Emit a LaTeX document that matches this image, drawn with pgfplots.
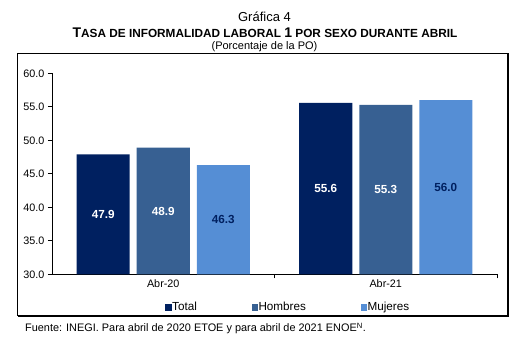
\documentclass[border=0pt]{standalone}
\usepackage{fontspec}
\setmainfont{Liberation Sans}
\usepackage{pgfplots}
\pgfplotsset{compat=1.18}
\definecolor{cTot}{HTML}{002060}
\definecolor{cHom}{HTML}{376092}
\definecolor{cMuj}{HTML}{558ED5}
\begin{document}
\begin{tikzpicture}[x=1pt,y=1pt]
\useasboundingbox (0,0) rectangle (523,342);
% frame with shadow
\draw[line width=0.6pt] (17.5,26.5) rectangle (507.5,289);
\draw[line width=1.6pt] (18,25.8) -- (508.2,25.8) -- (508.2,288.5);
% titles
\node[anchor=base,inner sep=0] at (264.5,320) {\fontsize{13}{15}\selectfont Gráfica 4};
\node[anchor=base,inner sep=0] at (265,304.7) {\bfseries\fontsize{14}{16}\selectfont T\fontsize{11.8}{14}\selectfont ASA DE INFORMALIDAD LABORAL \fontsize{14}{16}\selectfont 1\fontsize{11.8}{14}\selectfont{} POR SEXO DURANTE ABRIL};
\node[anchor=base,inner sep=0] at (264.5,292.5) {\fontsize{11}{13}\selectfont (Porcentaje de la PO)};
\node[anchor=base west,inner sep=0] at (25,10) {\fontsize{10.9}{13}\selectfont Fuente: INEGI. Para abril de 2020 ETOE y para abril de 2021 ENOE\textsuperscript{N}.};
\begin{axis}[
  at={(52pt,67.7pt)}, anchor=south west,
  scale only axis, width=445pt, height=201pt,
  xmin=-0.5, xmax=1.5, ymin=30, ymax=60,
  axis x line=bottom, axis y line=left,
  axis line style={-, black, line width=0.6pt},
  ybar=7pt, bar width=53pt,
  xtick={0.5,1.5}, xticklabels={},
  extra x ticks={0,1}, extra x tick labels={Abr-20,Abr-21},
  extra x tick style={major tick length=0pt, tick label style={yshift=-2pt}},
  ytick={30,35,40,45,50,55,60},
  yticklabel style={/pgf/number format/fixed, /pgf/number format/fixed zerofill, /pgf/number format/precision=1},
  tick align=outside, major tick length=4pt,
  tick style={black, line width=0.6pt},
  tick label style={font=\fontsize{10.8}{12}\selectfont},
  /pgf/number format/assume math mode=true,
  legend columns=3,
  legend style={at={(0.2539,-0.165)}, anchor=west, draw=none, fill=none,
    inner sep=0pt, font=\fontsize{11.7}{13}\selectfont,
    nodes={inner sep=0.6pt},
    /tikz/every odd column/.append style={column sep=0pt},
    /tikz/every even column/.append style={column sep=54pt}},
  legend image code/.code={\fill[#1] (0pt,-3.2pt) rectangle (6.4pt,3.2pt);},
  nodes near coords,
  point meta=y,
  visualization depends on={y \as \rawy},
  every node near coord/.append style={anchor=center, font=\bfseries\fontsize{11.7}{13}\selectfont,
    /pgf/number format/fixed, /pgf/number format/fixed zerofill, /pgf/number format/precision=1, /pgf/number format/assume math mode=true},
]
\addplot[fill=cTot, draw=none, every node near coord/.append style={text=white, yshift={-(\rawy-30)*3.35pt}}] coordinates {(0,47.9) (1,55.6)};
\addplot[fill=cHom, draw=none, every node near coord/.append style={text=white, yshift={-(\rawy-30)*3.35pt}}] coordinates {(0,48.9) (1,55.3)};
\addplot[fill=cMuj, draw=none, every node near coord/.append style={text=cTot, yshift={-(\rawy-30)*3.35pt}}] coordinates {(0,46.3) (1,56.0)};
\legend{Total,Hombres,Mujeres}
\end{axis}
\end{tikzpicture}
\end{document}
